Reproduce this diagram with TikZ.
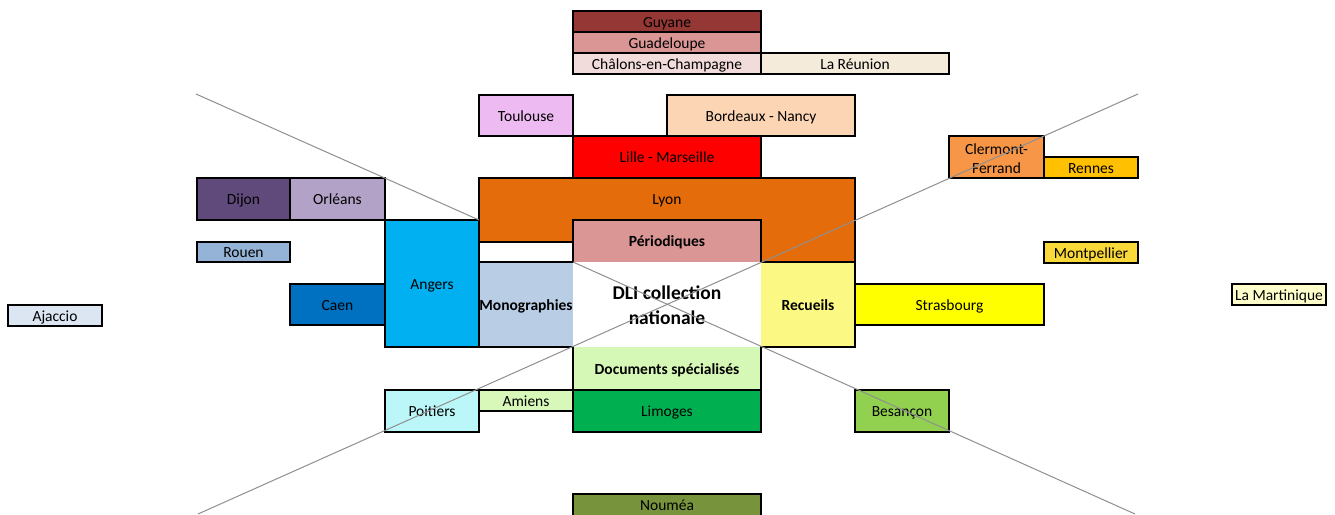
\documentclass[tikz,border=0pt]{standalone}
\usepackage{fontspec}
\setmainfont{Carlito}
\usepackage{tikz}

\definecolor{guyane}{HTML}{953735}
\definecolor{guadel}{HTML}{D99694}
\definecolor{chalons}{HTML}{F2DCDB}
\definecolor{reunion}{HTML}{F4EBDA}
\definecolor{toulouse}{HTML}{EDBBF1}
\definecolor{bordeaux}{HTML}{FCD5B5}
\definecolor{lyon}{HTML}{E46C0A}
\definecolor{period}{HTML}{D99694}
\definecolor{monog}{HTML}{B9CDE5}
\definecolor{recueil}{HTML}{FBF883}
\definecolor{docspec}{HTML}{D6F8B6}
\definecolor{angers}{HTML}{00B0F0}
\definecolor{dijon}{HTML}{604A7B}
\definecolor{orleans}{HTML}{B3A2C7}
\definecolor{rouen}{HTML}{95B3D7}
\definecolor{caen}{HTML}{0070C0}
\definecolor{ajaccio}{HTML}{DCE6F2}
\definecolor{poitiers}{HTML}{BBF6F8}
\definecolor{amiens}{HTML}{D7F8B8}
\definecolor{limoges}{HTML}{00B050}
\definecolor{besancon}{HTML}{92D050}
\definecolor{noumea}{HTML}{77933C}
\definecolor{strasb}{HTML}{FFFF00}
\definecolor{montp}{HTML}{F9D939}
\definecolor{clermont}{HTML}{F79646}
\definecolor{rennes}{HTML}{FFC000}
\definecolor{martin}{HTML}{FFFFCC}
\definecolor{diaggray}{HTML}{8F8F8F}

\begin{document}
\begin{tikzpicture}[x=1pt,y=-1pt,line width=2pt,
  font=\fontsize{15.5}{19}\selectfont]
  \tikzstyle{every node}=[text height=13,text depth=1.4]
  \tikzstyle{cell}=[draw,anchor=north west,inner sep=0pt,outer sep=0pt,align=center]
  \tikzstyle{core}=[cell,draw=none,font=\fontsize{15.5}{19}\selectfont\bfseries]
  \tikzstyle{diag}=[line width=1pt,draw=diaggray]

  \useasboundingbox (0,0) rectangle (1335,514);
  \clip (0,0) rectangle (1335,514);

  % overseas, top
  \node[cell,fill=guyane,minimum width=188,minimum height=21]  (Guy) at (573,11) {Guyane};
  \node[cell,fill=guadel,minimum width=188,minimum height=21]  (Gua) at (573,32) {Guadeloupe};
  \node[cell,fill=chalons,minimum width=188,minimum height=21] (Cha) at (573,53) {Châlons-en-Champagne};
  \node[cell,fill=reunion,minimum width=188,minimum height=21] (Reu) at (761,53) {La Réunion};

  \node[cell,fill=toulouse,minimum width=94,minimum height=41]  (Tou) at (479,95) {Toulouse};
  \node[cell,fill=bordeaux,minimum width=188,minimum height=41] (Bor) at (667,95) {Bordeaux - Nancy};
  \node[cell,fill=red,minimum width=188,minimum height=42]      (Lil) at (573,136) {Lille - Marseille};

  \node[cell,fill=clermont,minimum width=95,minimum height=42,
    text height=33,text depth=1]                               (Cle) at (949,136) {Clermont-\\Ferrand};
  \node[cell,fill=rennes,minimum width=94,minimum height=21]   (Ren) at (1044,157) {Rennes};
  \node[cell,fill=montp,minimum width=94,minimum height=21]    (Mtp) at (1044,242) {Montpellier};

  % west
  \node[cell,fill=dijon,minimum width=93,minimum height=42]   (Dij) at (197,178) {Dijon};
  \node[cell,fill=orleans,minimum width=95,minimum height=42] (Orl) at (290,178) {Orléans};
  \node[cell,fill=rouen,minimum width=93,minimum height=20]   (Rou) at (197,242) {Rouen};
  \node[cell,fill=caen,minimum width=95,minimum height=41]    (Cae) at (290,284) {Caen};
  \node[cell,fill=ajaccio,minimum width=94,minimum height=21] (Aja) at (8,305) {Ajaccio};
  \node[cell,fill=angers,minimum width=94,minimum height=127] (Ang) at (385,220) {Angers};

  % Lyon
  \draw[fill=lyon] (479,178) -- (855,178) -- (855,262) -- (761,262) -- (761,220)
    -- (573,220) -- (573,242) -- (479,242) -- cycle;
  \node (Lyo) at (667,199) {Lyon};

  % centre
  \node[core,fill=period,minimum width=188,minimum height=42] (Per) at (573,220) {Périodiques};
  \node[core,fill=monog,minimum width=94,minimum height=85]   (Mon) at (479,262) {Monographies};
  \node[core,fill=white,minimum width=188,minimum height=85,text height=41,text depth=1.4,
    font=\fontsize{19.5}{25}\selectfont\bfseries]             (DLI) at (573,262) {DLI collection\\nationale};
  \node[core,fill=recueil,minimum width=94,minimum height=85] (Rec) at (761,262) {Recueils};
  \node[core,fill=docspec,minimum width=188,minimum height=43] (Doc) at (573,347) {Documents spécialisés};
  \draw (Per.north west) -- (Per.north east) -- (Rec.north west) -- (Rec.north east)
    -- (Rec.south east) -- (Rec.south west) -- (Doc.south east) -- (Doc.south west)
    -- (Mon.south east) -- (Mon.south west) -- (Mon.north west) -- (Mon.north east) -- cycle;

  % east
  \node[cell,fill=strasb,minimum width=189,minimum height=41] (Str) at (855,284) {Strasbourg};
  \node[cell,fill=martin,minimum width=94,minimum height=21]  (Mar) at (1232,284) {La Martinique};

  % south
  \node[cell,fill=poitiers,minimum width=94,minimum height=42] (Poi) at (385,390) {Poitiers};
  \node[cell,fill=amiens,minimum width=94,minimum height=21]   (Ami) at (479,390) {Amiens};
  \node[cell,fill=limoges,minimum width=188,minimum height=42] (Lim) at (573,390) {Limoges};
  \node[cell,fill=besancon,minimum width=94,minimum height=42] (Bes) at (855,390) {Besançon};
  \node[cell,fill=noumea,minimum width=188,minimum height=22]  (Nou) at (573,494) {Nouméa};

  % diagonals
  \coordinate (nw) at (196,94);
  \coordinate (se) at (1135,514);
  \coordinate (ne) at (1138,94);
  \coordinate (sw) at (198,514);
  \draw[diag] (nw) -- (Ang.north east);
  \draw[diag] (DLI.north west) -- (se);
  \draw[diag] (ne) -- (sw);
\end{tikzpicture}
\end{document}
